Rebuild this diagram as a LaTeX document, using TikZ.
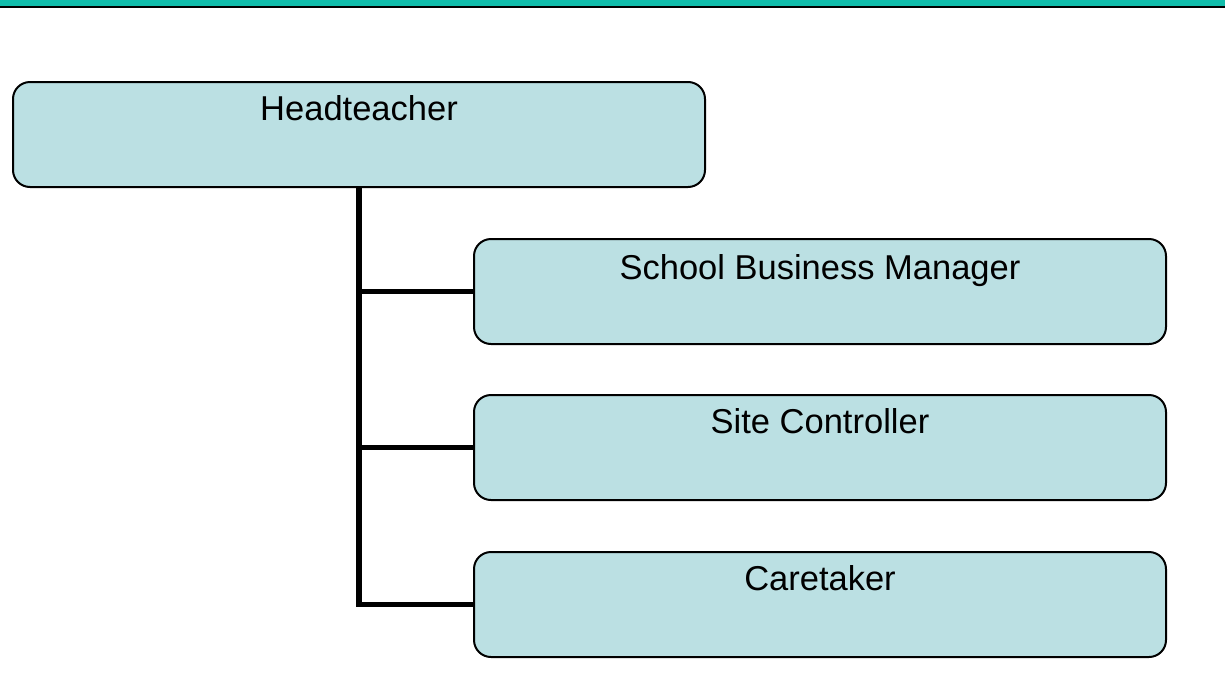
\documentclass[tikz,border=0pt]{standalone}
\usepackage{fontspec}
\setmainfont{Liberation Sans}
\definecolor{barteal}{RGB}{17,189,171}
\definecolor{boxfill}{RGB}{187,224,227}
\begin{document}
\begin{tikzpicture}[x=1pt,y=-1pt,
  orgbox/.style={draw=black, line width=2pt, fill=boxfill, rounded corners=17pt,
    minimum width=692pt, minimum height=105pt, inner sep=0pt, anchor=north west},
  boxtext/.style={anchor=base, font=\fontsize{34.5}{40}\selectfont, inner sep=0pt},
  link/.style={draw=black, line width=5.5pt, line join=miter}]
  \useasboundingbox (0,0) rectangle (1225,691);
  % header band
  \fill[barteal] (0,0) rectangle (1225,5.7);
  \fill[black] (0,5.7) rectangle (1225,7.7);
  % boxes
  \node[orgbox] (ht) at (12,81) {};
  \node[orgbox] (sbm) at (473,238) {};
  \node[orgbox] (sc) at (473,394) {};
  \node[orgbox] (ct) at (473,551) {};
  % titles
  \node[boxtext] (htt) at ([yshift=-39pt]ht.north) {Headteacher};
  \node[boxtext] (sbmt) at ([yshift=-41pt]sbm.north) {School Business Manager};
  \node[boxtext] (sct) at ([yshift=-39pt]sc.north) {Site Controller};
  \node[boxtext] (ctt) at ([yshift=-39pt]ct.north) {Caretaker};
  % reporting lines
  \draw[link] (ht.south) |- (ct.west);
  \draw[link] (ht.south) |- (sbm.west);
  \draw[link] (ht.south) |- (sc.west);
\end{tikzpicture}
\end{document}
